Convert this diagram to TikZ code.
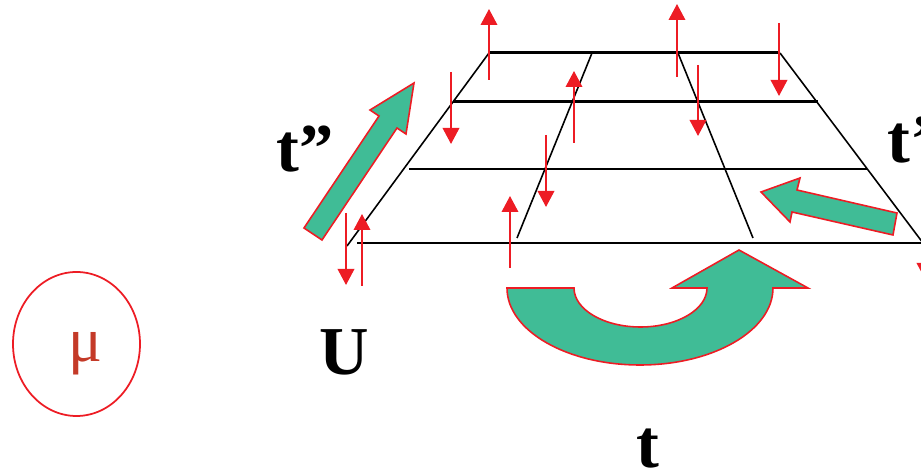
\documentclass[tikz,border=0pt]{standalone}
\usepackage{fontspec}
\setmainfont{Liberation Serif}
\usepackage{tikz}
\usetikzlibrary{arrows.meta}
\definecolor{spinred}{RGB}{237,28,36}
\definecolor{hopgreen}{RGB}{64,188,150}
\definecolor{mured}{RGB}{196,58,40}

\begin{document}
\begin{tikzpicture}[x=0.02cm,y=-0.02cm,
    spin/.style={spinred,line width=1.1pt,-{Triangle[length=3.2mm,width=3.3mm]}},
    hop/.style={fill=hopgreen,draw=spinred,line width=0.9pt},
    lbl/.style={font=\fontsize{39}{40}\selectfont\bfseries,inner sep=0pt}]
        \useasboundingbox (0,0) rectangle (921,472);
        \clip (0,0) rectangle (921,472);
        \coordinate (a1) at (489,53);
        \coordinate (a2) at (592,53);
        \coordinate (a3) at (678,53);
        \coordinate (a4) at (780,53);
        \coordinate (b1) at (453,102);
        \coordinate (b4) at (818,102);
        \coordinate (c1) at (409,169);
        \coordinate (c4) at (867,169);
        \coordinate (d0) at (347,246);
        \coordinate (d1) at (357,243);
        \coordinate (d2) at (517,238);
        \coordinate (d3) at (753,238);
        \coordinate (d4) at (923,243);
        %Grid
        \draw[line width=1.7pt] (a1) -- (a4);
        \draw[line width=1.7pt] (b1) -- (b4);
        \draw[line width=1pt] (c1) -- (c4);
        \draw[line width=1.1pt] (d1) -- (d4);
        \draw[line width=0.9pt] (a1) -- (d0);
        \draw[line width=0.9pt] (a2) -- (d2);
        \draw[line width=0.9pt] (a3) -- (d3);
        \draw[line width=0.9pt] (a4) -- (d4);
        %Spins
        \draw[spin] (489,80) -- (489,9);
        \draw[spin] (677,77) -- (677,4);
        \draw[spin] (779,23) -- (779,96);
        \draw[spin] (451,72) -- (451,144);
        \draw[spin] (574,143) -- (574,71);
        \draw[spin] (698,65) -- (698,136);
        \draw[spin] (546,135) -- (546,207);
        \draw[spin] (510,268) -- (510,196);
        \draw[spin] (346,213) -- (346,285);
        \draw[spin] (362,286) -- (362,214);
        \draw[spin] (925,210) -- (925,279);
        %Hopping arrows
        \filldraw[hop] (304,228) -- (379,116) -- (370,110) -- (414,83)
            -- (406,134) -- (397,128) -- (322,240) -- cycle;
        \filldraw[hop] (761,192) -- (800,178) -- (797,190) -- (897,213)
            -- (893,235) -- (792,212) -- (790,222) -- cycle;
        \filldraw[hop] (507,288) arc[start angle=180,end angle=0,x radius=133,y radius=77]
            -- (808,288) -- (739,250) -- (672,288) -- (707,288)
            arc[start angle=0,end angle=180,x radius=66.5,y radius=39] -- cycle;
        %Labels
        \node[lbl,anchor=base west] (tpp) at (276,172) {t''};
        \node[lbl,anchor=base west] (tp) at (887,163) {t'};
        \node[lbl,anchor=base west] (U) at (319,375) {U};
        \node[lbl,anchor=base west] (t) at (636,468) {t};
        %Chemical potential
        \draw[spinred,line width=1pt] (76.5,344) ellipse[x radius=63.5,y radius=72];
        \node[font=\fontsize{36}{38}\selectfont,text=mured,inner sep=0pt,anchor=base] (mu) at (85,362) {μ};
      \end{tikzpicture}
\end{document}
